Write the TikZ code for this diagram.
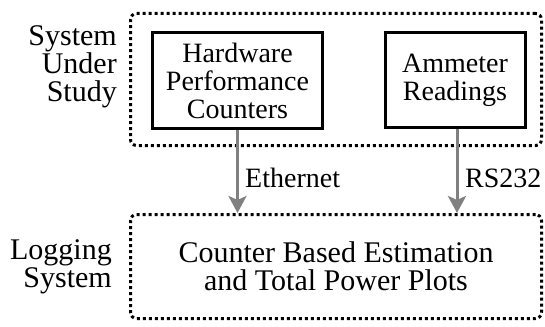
\documentclass[tikz,border=0pt]{standalone}
\usepackage{fontspec}
\setmainfont{Liberation Serif}
\newfontfamily\timesfont{Liberation Serif}
\usetikzlibrary{arrows.meta}
\definecolor{arrowgray}{RGB}{128,128,128}
\begin{document}
\begin{tikzpicture}[x=1pt,y=-1pt,
  every node/.style={font=\timesfont\fontsize{30}{28}\selectfont, inner sep=0pt, align=center},
  solidbox/.style={draw, line width=3pt, font=\timesfont\fontsize{28}{28}\selectfont},
  dotbox/.style={draw, line width=3pt, dash pattern=on 3pt off 3pt, rounded corners=6pt},
  link/.style={draw=arrowgray, line width=3pt, -{Stealth[length=17pt,width=18pt,inset=4pt]}},
  linklabel/.style={anchor=base west, font=\timesfont\fontsize{28}{28}\selectfont},
  sidelabel/.style={align=right, anchor=north east}]
\useasboundingbox (0,0) rectangle (545,326);
\node[dotbox, minimum width=411pt, minimum height=132pt] (sus) at (336,79.5) {};
\node[dotbox, minimum width=411pt, minimum height=104pt] (log) at (336,266.5) {};
\node[solidbox, minimum width=170pt, minimum height=96pt] (hpc) at (237.5,80.5) {Hardware\\Performance\\Counters};
\node[solidbox, minimum width=140pt, minimum height=94pt] (amm) at (455,80) {Ammeter\\Readings};
\node (est) at (336,266) {Counter Based Estimation\\and Total Power Plots};
\node[sidelabel] (suslbl) at (117,25) {System\\Under\\Study};
\node[sidelabel] (loglbl) at (112,239.5) {Logging\\System};
\coordinate (a1) at (hpc.south |- log.north);
\coordinate (a2) at ([xshift=2pt]amm.south |- log.north);
\draw[link] (hpc.south) -- (a1);
\draw[link] ([xshift=2pt]amm.south) -- (a2);
\node[linklabel] (eth) at (245,187) {Ethernet};
\node[linklabel] (rs) at (465,187) {RS232};
\end{tikzpicture}
\end{document}
